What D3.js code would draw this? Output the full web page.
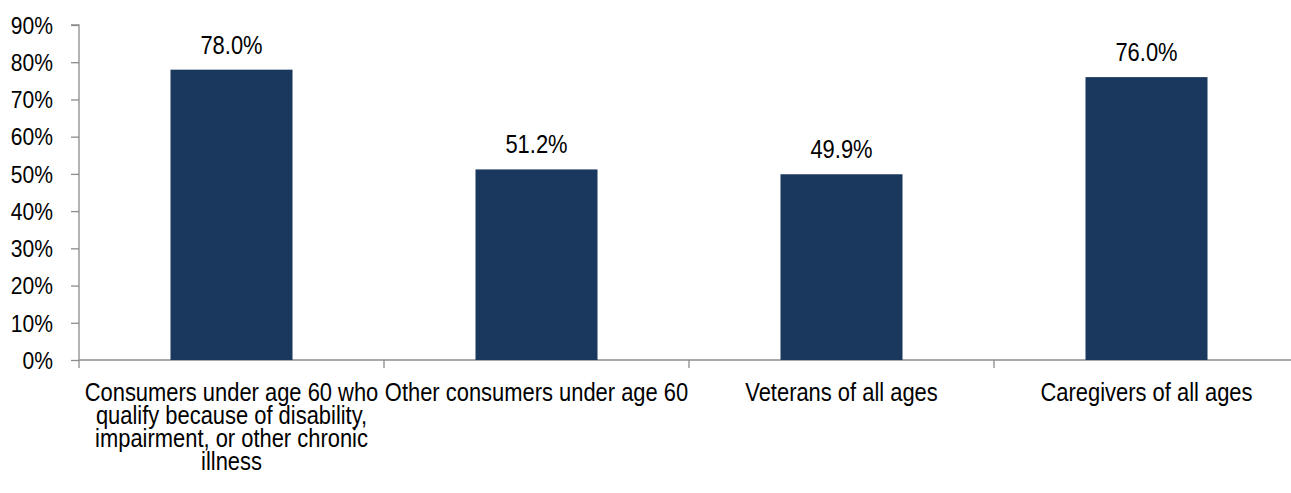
<!doctype html>
<html lang="en">
<head>
  <meta charset="utf-8">
  <title>Chart</title>
  <style>
    * { margin: 0; padding: 0; box-sizing: border-box; }
    body { background: #fff; }
    svg text { font-family: "Liberation Sans", Arial, sans-serif; fill: #000; }
  </style>
</head>
<body>
  <div id="container"></div>
  <script src="https://cdn.jsdelivr.net/npm/d3@7/dist/d3.min.js"></script>
  <script>
    const categories = [
      ['Consumers under age 60 who', 'qualify because of disability,', 'impairment, or other chronic', 'illness'],
      ['Other consumers under age 60'],
      ['Veterans of all ages'],
      ['Caregivers of all ages']
    ];
    const values = [78.0, 51.2, 49.9, 76.0];
    const yTicks = [0, 10, 20, 30, 40, 50, 60, 70, 80, 90];

    const W = 1291, H = 493;
    const mLeft = 79, mRight = 1299, mTop = 25, mBottom = 360;
    const narrow = 0.86; // reference uses a condensed face, squeeze Liberation Sans

    const svg = d3.select('#container').append('svg')
      .attr('width', W).attr('height', H);

    const x = d3.scaleBand()
      .domain(d3.range(categories.length))
      .range([mLeft, mRight])
      .paddingInner(0.6).paddingOuter(0.3);

    const y = d3.scaleLinear().domain([0, 90]).range([mBottom, mTop]);

    // y axis (labels drawn separately so they can be squeezed)
    const gy = svg.append('g').attr('transform', `translate(${mLeft},0)`)
      .call(d3.axisLeft(y).tickValues(yTicks).tickSize(8).tickFormat(''));
    gy.selectAll('path, line').attr('stroke', '#8c8c8c').attr('stroke-width', 1.3);
    gy.select('.domain').attr('d', `M-8,${mTop}H0V${mBottom}`);

    svg.selectAll('.ylab').data(yTicks).join('text')
      .attr('class', 'ylab')
      .attr('transform', d => `translate(53,${y(d)}) scale(${narrow},1)`)
      .attr('text-anchor', 'end')
      .attr('dy', '0.36em')
      .style('font-size', '24.5px')
      .text(d => d + '%');

    // x axis
    const band = d3.scaleLinear().domain([0, categories.length]).range([mLeft, mRight]);
    const gx = svg.append('g').attr('transform', `translate(0,${mBottom})`);
    gx.append('line').attr('x1', mLeft).attr('x2', mRight)
      .attr('stroke', '#8c8c8c').attr('stroke-width', 1.3);
    gx.selectAll('.tk').data(d3.range(categories.length + 1)).join('line')
      .attr('class', 'tk')
      .attr('x1', d => band(d)).attr('x2', d => band(d))
      .attr('y1', 0).attr('y2', 8)
      .attr('stroke', '#8c8c8c').attr('stroke-width', 1.3);

    // bars
    svg.selectAll('.bar').data(values).join('rect')
      .attr('class', 'bar')
      .attr('x', (d, i) => x(i))
      .attr('width', x.bandwidth())
      .attr('y', d => y(d))
      .attr('height', d => y(0) - y(d))
      .attr('fill', '#1a375e');

    // value labels
    svg.selectAll('.val').data(values).join('text')
      .attr('class', 'val')
      .attr('transform', (d, i) => `translate(${x(i) + x.bandwidth() / 2},${y(d) - 16}) scale(${narrow},1)`)
      .attr('text-anchor', 'middle')
      .style('font-size', '25.5px')
      .text(d => d.toFixed(1) + '%');

    // category labels
    const cl = svg.selectAll('.cat').data(categories).join('text')
      .attr('class', 'cat')
      .attr('text-anchor', 'middle')
      .style('font-size', '25.5px')
      .attr('transform', (d, i) => `translate(${x(i) + x.bandwidth() / 2},401) scale(${narrow},1)`);
    cl.selectAll('tspan').data(d => d).join('tspan')
      .attr('x', 0).attr('y', (d, j) => j * 23)
      .text(d => d);
  </script>
</body>
</html>
